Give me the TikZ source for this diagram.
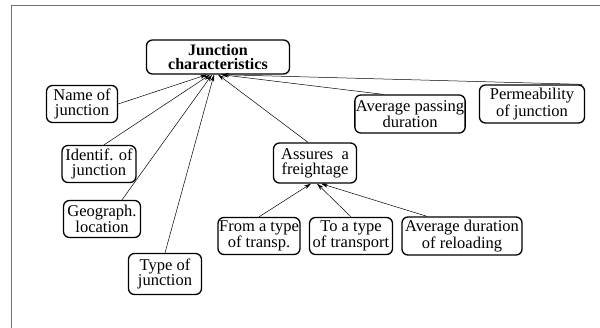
\documentclass[tikz,border=0pt]{standalone}
\usepackage{fontspec}
\setmainfont{Liberation Serif}
\usetikzlibrary{arrows.meta}

\tikzset{
  box/.style={draw, line width=1.3pt, rounded corners=6pt, align=center,
    inner sep=1pt, minimum height=37pt, font=\fontsize{16.5}{15}\selectfont},
  link/.style={-{Stealth[length=7pt,width=4pt]}, line width=0.5pt}
}

\begin{document}
\begin{tikzpicture}[x=1pt,y=-1pt] % 11 nodes
      \useasboundingbox (0,0) rectangle (600,327);
      \draw[black!55, line width=1pt] (11,340) -- (11,5) -- (610,5);
      \node[name=jc, box, minimum width=143pt, minimum height=34pt,
        font=\bfseries\fontsize{16}{14.5}\selectfont] at (218,57) {Junction\\characteristics};
      \node[name=name, box, minimum width=71pt] at (82,104) {Name of\\junction};
      \node[name=ident, box, minimum width=74pt] at (99,164) {Identif. of\\junction};
      \node[name=geo, box, minimum width=77pt] at (102,219) {Geograph.\\location};
      \node[name=type, box, minimum width=73pt, minimum height=41pt] at (165,274) {Type of\\junction};
      \node[name=freight, box, minimum width=83pt, minimum height=40pt] at (315,163) {Assures\ \ a\\freightage};
      \node[name=pass, box, minimum width=110pt, minimum height=38pt] at (410,114) {Average passing\\duration};
      \node[name=perm, box, minimum width=105pt, minimum height=38pt] at (532,104) {Permeability\\of junction};
      \node[name=from, box, minimum width=82pt] at (259,236) {From a type\\of transp.};
      \node[name=to, box, minimum width=83pt] at (351,236) {To a type\\of transport};
      \node[name=reload, box, minimum width=120pt, minimum height=38pt] at (462,236) {Average duration\\of reloading};
      \draw[link] (name.east) -- ([xshift=-11pt]jc.south);
      \draw[link] ([xshift=5pt]ident.north) -- ([xshift=-8pt]jc.south);
      \draw[link] ([xshift=20pt]geo.north) -- ([xshift=-6pt]jc.south);
      \draw[link] (type.north) -- ([xshift=-4pt]jc.south);
      \draw[link] ([xshift=-7pt]freight.north) -- (jc.south);
      \draw[link] ([xshift=-27pt]pass.north) -- ([xshift=3pt]jc.south);
      \draw[link] ([xshift=-3pt]perm.north east) -- ([xshift=4pt]jc.south);
      \draw[link] (from.north) -- ([xshift=-4pt]freight.south);
      \draw[link] (to.north) -- ([xshift=2pt]freight.south);
      \draw[link] ([xshift=-35pt]reload.north) -- ([xshift=6pt]freight.south);
   \end{tikzpicture}
\end{document}
